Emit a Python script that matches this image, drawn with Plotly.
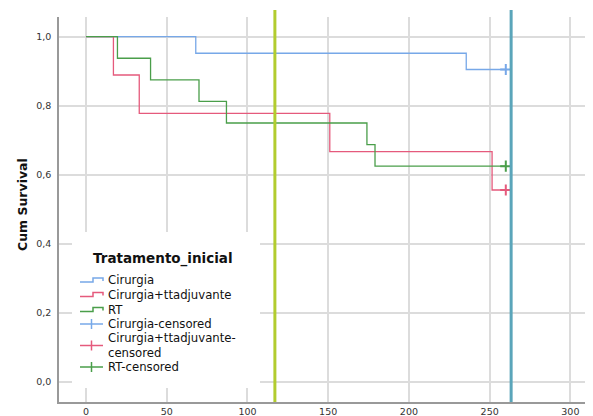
import plotly.graph_objects as go

# Data (Kaplan-Meier step curves)
cir_t = [0, 68, 235.5, 260]
cir_s = [1.0, 0.952, 0.905, 0.905]
adj_t = [0, 17, 33, 151, 251.5, 260]
adj_s = [1.0, 0.889, 0.778, 0.667, 0.556, 0.556]
rt_t = [0, 19.5, 40, 70, 87, 174, 179, 260]
rt_s = [1.0, 0.9375, 0.875, 0.8125, 0.75, 0.6875, 0.625, 0.625]
cens_t = [260, 260, 260]
cens_s = [0.905, 0.556, 0.625]
vlines = [117, 263.3]

groups = ["Cirurgia", "Cirurgia+ttadjuvante", "RT"]
legend_title = "Tratamento_inicial"
legend_labels = ["Cirurgia", "Cirurgia+ttadjuvante", "RT", "Cirurgia-censored",
                 "Cirurgia+ttadjuvante-<br>censored", "RT-censored"]

x_ticks = [0, 50, 100, 150, 200, 250, 300]
y_ticks = [0.0, 0.2, 0.4, 0.6, 0.8, 1.0]
y_labels = ["0,0", "0,2", "0,4", "0,6", "0,8", "1,0"]

colors = ["#77a8e8", "#e55a7c", "#4a9e4a"]

# page offset (default body margin) and plot area in page pixels
OFF = 8
W, H = 593 - OFF, 416 - OFF
L, R, T, B = 59, 593, 17, 402
def px(xp):
    return (xp - L) / (R - L)
def py(yp):
    return (B - yp) / (B - T)

fig = go.Figure()
for name, t, s, c in zip(groups, [cir_t, adj_t, rt_t], [cir_s, adj_s, rt_s], colors):
    fig.add_trace(go.Scatter(x=t, y=s, mode="lines", line=dict(shape="hv", color=c, width=1.3),
                             name=name, showlegend=False))
for name, t, s, c in zip(groups, cens_t, cens_s, colors):
    fig.add_trace(go.Scatter(x=[t], y=[s], mode="markers", name=name + "-censored", showlegend=False,
                             marker=dict(symbol="cross-thin", size=8, line=dict(color=c, width=2))))

fig.add_shape(type="line", x0=vlines[0], x1=vlines[0], yref="paper", y0=0, y1=py(10),
              line=dict(color="#b2cc2f", width=3))
fig.add_shape(type="line", x0=vlines[1], x1=vlines[1], yref="paper", y0=0, y1=py(10),
              line=dict(color="#5aa5ba", width=3))

# custom legend
fig.add_shape(type="rect", xref="paper", yref="paper", x0=px(72), x1=px(260), y0=py(388), y1=py(232),
              fillcolor="white", line=dict(width=0), layer="above")
fig.add_annotation(xref="paper", yref="paper", x=px(91), y=py(258), xanchor="left", yanchor="middle",
                   text="<b>" + legend_title + "</b>", showarrow=False,
                   font=dict(family="DejaVu Sans", size=13.5, color="#111"))
item_y = [280, 294.5, 309.5, 324, 345.5, 367]
for i, (lab, yy) in enumerate(zip(legend_labels, item_y)):
    c = colors[i % 3]
    fig.add_annotation(xref="paper", yref="paper", x=px(105.5), y=py(yy), xanchor="left", yanchor="middle",
                       text=lab, showarrow=False, align="left",
                       font=dict(family="DejaVu Sans", size=11.7, color="#111"))
    if i < 3:
        path = "M {},{} L {},{} L {},{} L {},{} L {},{}".format(
            px(80), py(yy + 2), px(93), py(yy + 2), px(93), py(yy - 2), px(103), py(yy - 2), px(103), py(yy + 1))
        fig.add_shape(type="path", xref="paper", yref="paper", path=path, line=dict(color=c, width=1.5),
                      layer="above")
    else:
        fig.add_shape(type="line", xref="paper", yref="paper", x0=px(80), x1=px(103), y0=py(yy), y1=py(yy),
                      line=dict(color=c, width=1.5), layer="above")
        fig.add_shape(type="line", xref="paper", yref="paper", x0=px(91.5), x1=px(91.5), y0=py(yy - 5),
                      y1=py(yy + 5), line=dict(color=c, width=1.5), layer="above")

fig.add_annotation(xref="paper", yref="paper", x=px(22), y=py(205), text="<b>Cum Survival</b>",
                   textangle=-90, showarrow=False, xanchor="center", yanchor="middle",
                   font=dict(family="DejaVu Sans", size=12.5, color="#111"))

fig.update_layout(
    width=W, height=H,
    margin=dict(l=L - OFF, r=593 - R, t=T - OFF, b=416 - B),
    paper_bgcolor="white", plot_bgcolor="white",
    font=dict(family="DejaVu Sans", size=9.5, color="#333"),
    showlegend=False,
    xaxis=dict(range=[-16.7, 314], tickvals=x_ticks, showgrid=True, gridcolor="#dcdcdc", gridwidth=1.5,
               zeroline=False, showline=True, linecolor="#999", linewidth=1.5, ticks="", automargin=False,
               tickfont=dict(size=9.5, color="#333")),
    yaxis=dict(range=[-0.058, 1.057], tickvals=y_ticks, ticktext=y_labels, showgrid=True,
               gridcolor="#dcdcdc", gridwidth=1.5, zeroline=False, showline=True, linecolor="#999",
               linewidth=1.5, ticks="", automargin=False, ticklabelstandoff=4,
               tickfont=dict(size=9.5, color="#333")),
)
fig.write_html("out.html")
